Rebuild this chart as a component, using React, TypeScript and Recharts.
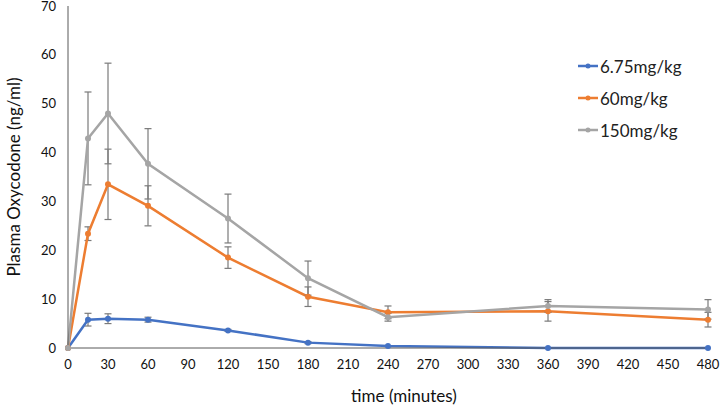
import React from 'react';
import { LineChart, Line, XAxis, YAxis, ErrorBar } from 'recharts';

const times = [0, 15, 30, 60, 120, 180, 240, 360, 480];
const xTicks = [0, 30, 60, 90, 120, 150, 180, 210, 240, 270, 300, 330, 360, 390, 420, 450, 480];
const yTicks = [0, 10, 20, 30, 40, 50, 60, 70];

const low = [0, 5.8, 6.0, 5.8, 3.6, 1.1, 0.4, 0, 0];
const lowErr = [0, 1.3, 1.0, 0.5, 0.2, 0.2, 0.1, 0, 0];
const mid = [0, 23.4, 33.5, 29.1, 18.5, 10.5, 7.3, 7.5, 5.8];
const midErr = [0, 1.4, 7.2, 4.1, 2.2, 2.0, 1.3, 2.0, 1.5];
const high = [0, 42.9, 48.0, 37.7, 26.5, 14.3, 6.3, 8.6, 7.9];
const highErr = [0, 9.5, 10.3, 7.2, 5.0, 3.5, 0.8, 1.3, 2.0];

const seriesNames = ['6.75mg/kg', '60mg/kg', '150mg/kg'];
const colors = ['#4472C4', '#ED7D31', '#A5A5A5'];

const data = times.map((t, i) => ({
  t,
  low: low[i],
  lowErr: lowErr[i],
  mid: mid[i],
  midErr: midErr[i],
  high: high[i],
  highErr: highErr[i],
}));

const FONT = 'Lato, "Open Sans", sans-serif';

const LegendBox = () => (
  <div style={{ position: 'absolute', left: 578, top: 50, fontFamily: FONT, fontSize: 17, color: '#222' }}>
    {seriesNames.map((n, i) => (
      <div key={n} style={{ display: 'flex', alignItems: 'center', height: 32 }}>
        <svg width={21} height={10} style={{ marginRight: 1 }}>
          <line x1={0} y1={5} x2={20} y2={5} stroke={colors[i]} strokeWidth={2.5} />
          <circle cx={10} cy={5} r={2.5} fill={colors[i]} />
        </svg>
        <span>{n}</span>
      </div>
    ))}
  </div>
);

export default function App() {
  const series = [
    { key: 'low', err: 'lowErr' },
    { key: 'mid', err: 'midErr' },
    { key: 'high', err: 'highErr' },
  ];
  return (
    <div style={{ position: 'absolute', left: 0, top: 0, width: 722, height: 408, background: '#fff' }}>
      <LineChart width={722} height={408} data={data} margin={{ top: 6, right: 14, left: 0, bottom: 0 }}>
        <XAxis
          dataKey="t"
          type="number"
          domain={[0, 480]}
          ticks={xTicks}
          interval={0}
          height={60}
          tickLine={false}
          tickSize={0}
          tickMargin={12}
          axisLine={{ stroke: '#595959', strokeWidth: 1 }}
          tick={{ fill: '#111', fontSize: 13, fontFamily: FONT }}
          label={{ value: 'time (minutes)', position: 'insideBottom', offset: 6, dx: 16, style: { fill: '#111', fontSize: 17, fontFamily: FONT } }}
        />
        <YAxis
          type="number"
          domain={[0, 70]}
          ticks={yTicks}
          interval={0}
          width={68}
          tickLine={false}
          tickSize={0}
          tickMargin={12}
          axisLine={{ stroke: '#595959', strokeWidth: 1 }}
          tick={{ fill: '#111', fontSize: 13, fontFamily: FONT }}
          label={{ value: 'Plasma Oxycodone (ng/ml)', angle: -90, position: 'insideLeft', offset: 14, style: { textAnchor: 'middle', fill: '#111', fontSize: 17, fontFamily: FONT } }}
        />
        {series.map((s, i) => (
          <Line
            key={s.key}
            dataKey={s.key}
            name={seriesNames[i]}
            stroke={colors[i]}
            strokeWidth={2.5}
            dot={{ r: 3, fill: colors[i], stroke: colors[i], strokeWidth: 0 }}
            activeDot={false}
            isAnimationActive={false}
          >
            <ErrorBar dataKey={s.err} direction="y" width={3.5} stroke="#7a7a7a" strokeWidth={1.2} isAnimationActive={false} />
          </Line>
        ))}
      </LineChart>
      <LegendBox />
    </div>
  );
}
